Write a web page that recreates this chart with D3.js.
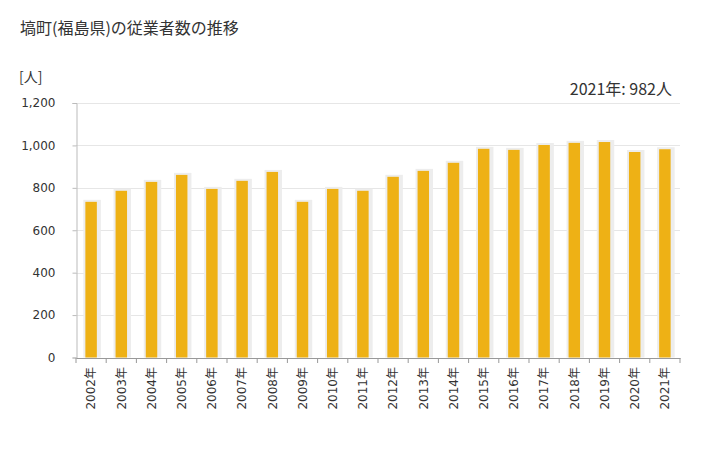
<!DOCTYPE html>
<html><head><meta charset="utf-8">
<script src="https://cdn.jsdelivr.net/npm/d3@7"></script>
<style>body{margin:0;background:#fff;} text{font-family:"Noto Sans CJK JP","Noto Sans",sans-serif;}</style>
</head><body>
<svg id="c" width="728" height="450"></svg>
<script>
const years = ["2002年","2003年","2004年","2005年","2006年","2007年","2008年","2009年","2010年","2011年","2012年","2013年","2014年","2015年","2016年","2017年","2018年","2019年","2020年","2021年"];
const values = [734,786,828,861,795,833,875,734,795,786,852,880,918,984,979,1002,1012,1016,969,982];
const yTicks = [0,200,400,600,800,1000,1200];
const title = "塙町(福島県)の従業者数の推移";
const unit = "[人]";
const note = "2021年: 982人";

const svg = d3.select("#c");
const m = {l:76, r:680, t:103, b:357.5};
const x = d3.scaleBand().domain(years).range([m.l, m.r]).paddingInner(0).paddingOuter(0);
const y = d3.scaleLinear().domain([0,1200]).range([m.b, m.t]);
const numFont = "'DejaVu Sans','Noto Sans CJK JP',sans-serif";

svg.append("text").attr("x",20).attr("y",34).attr("font-size",16).attr("fill","#333").text(title);
svg.append("text").attr("x",19).attr("y",82).attr("font-size",14).attr("fill","#333").text(unit);
svg.append("text").attr("x",672).attr("y",95).attr("text-anchor","end").attr("font-size",16).attr("fill","#333").text(note);

// grid
svg.append("g").selectAll("line").data(yTicks.slice(1)).join("line")
  .attr("x1",m.l).attr("x2",m.r).attr("y1",d=>Math.round(y(d))+0.5).attr("y2",d=>Math.round(y(d))+0.5)
  .attr("stroke","#e6e6e6").attr("stroke-width",1);

// y axis
const ya = svg.append("g").attr("transform",`translate(${m.l+0.5},0)`)
  .call(d3.axisLeft(y).tickValues(yTicks).tickSize(4).tickFormat(d3.format(",")));
ya.select(".domain").attr("stroke","#bbb");
ya.selectAll(".tick line").attr("stroke","#bbb");
ya.selectAll("text").attr("font-size",12).attr("fill","#333").attr("x",-21).style("font-family",numFont);

const bw = x.bandwidth()*0.38;
// shadows
svg.append("g").selectAll("rect").data(values).join("rect")
  .attr("x",(d,i)=>x(years[i])+x.bandwidth()/2-bw/2-2).attr("width",bw+6)
  .attr("y",d=>y(d)-2).attr("height",d=>m.b-y(d)+2).attr("fill","#ededed");
svg.append("g").selectAll("rect").data(values).join("rect")
  .attr("x",(d,i)=>x(years[i])+x.bandwidth()/2-bw/2).attr("width",bw)
  .attr("y",d=>y(d)).attr("height",d=>m.b-y(d)).attr("fill","#EEB115");

// x axis
const xa = svg.append("g").attr("transform",`translate(0,${m.b+0.5})`)
  .call(d3.axisBottom(x).tickSize(5).tickSizeOuter(0));
xa.select(".domain").attr("stroke","#999");
xa.selectAll(".tick line").attr("x1",-x.bandwidth()/2).attr("x2",-x.bandwidth()/2).attr("stroke","#999");
svg.append("line").attr("x1",m.r).attr("x2",m.r).attr("y1",m.b+0.5).attr("y2",m.b+5.5).attr("stroke","#999");
xa.selectAll("text").attr("font-size",12).attr("fill","#333").style("font-family",numFont)
  .attr("transform","rotate(-90)").attr("text-anchor","end").attr("x",-9).attr("y",0).attr("dy","0.35em");
</script>
</body></html>
